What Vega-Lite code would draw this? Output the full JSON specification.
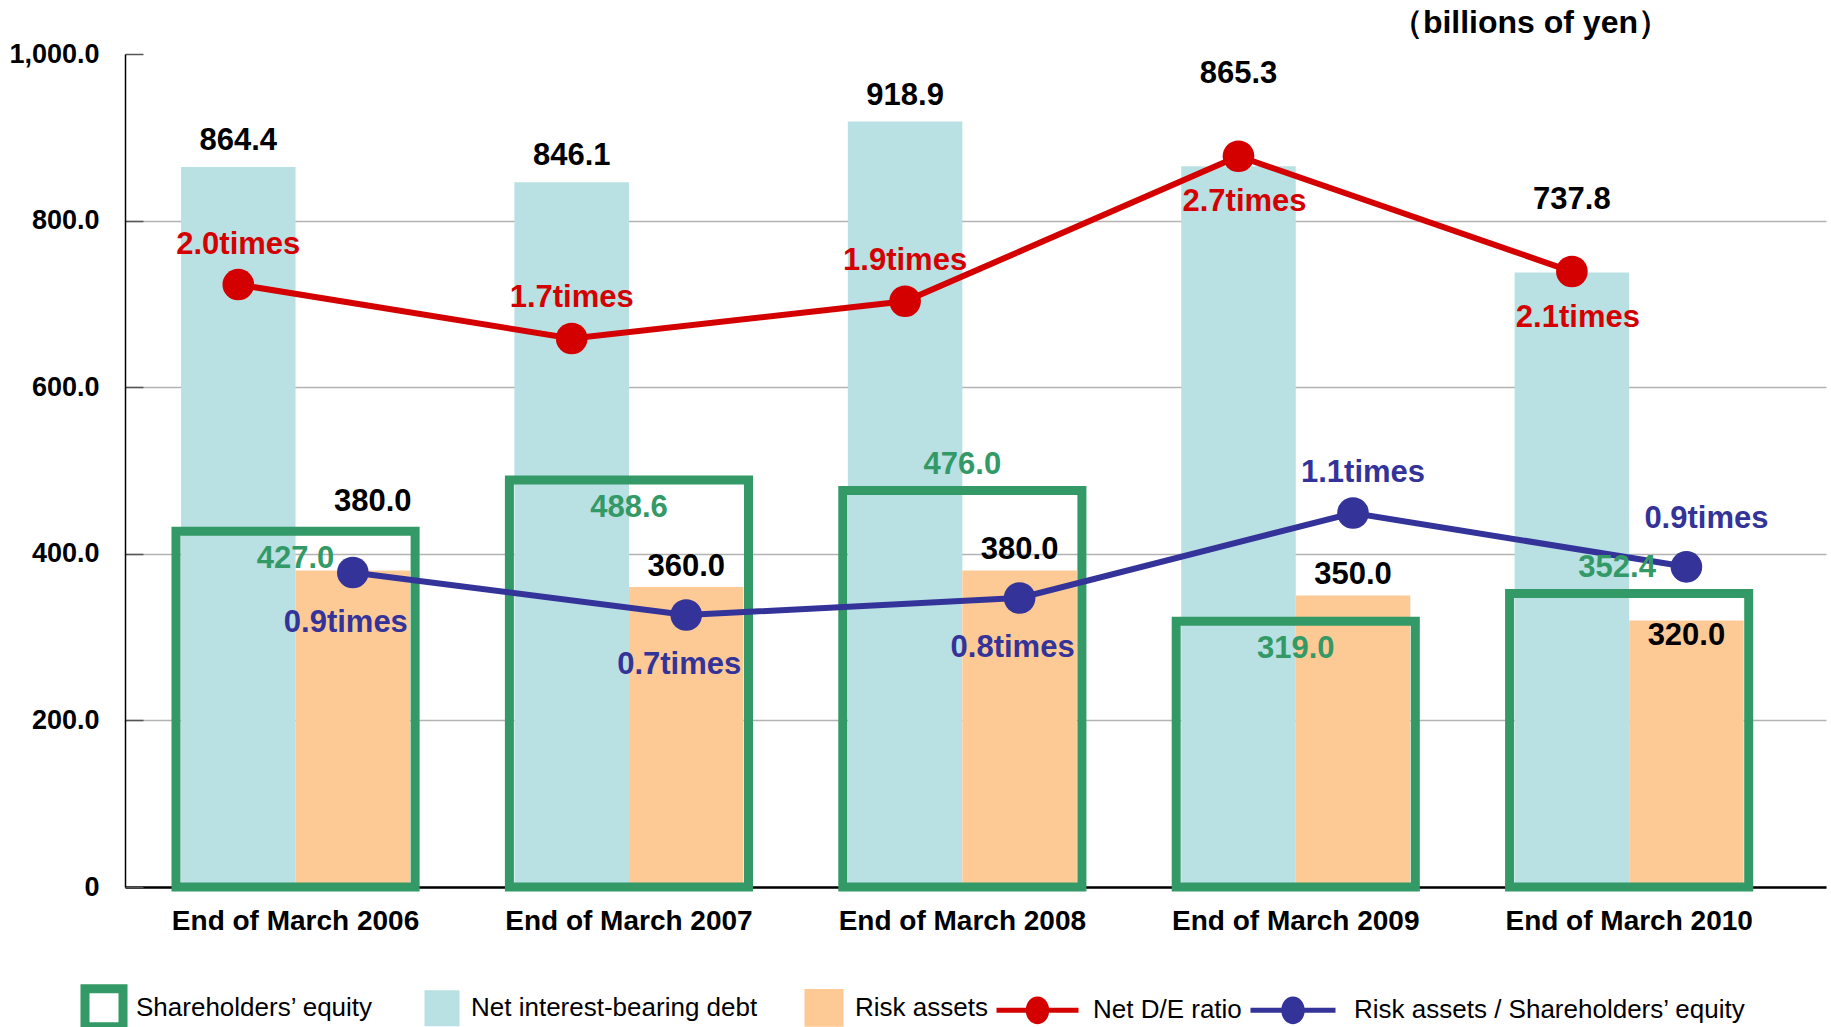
{
  "$schema": "https://vega.github.io/schema/vega-lite/v6.json",
  "width": 1701,
  "height": 833,
  "autosize": "none",
  "padding": {"left": 125, "top": 54, "right": 5, "bottom": 140},
  "background": "white",
  "title": {"text": "（billions of yen）", "anchor": "end", "orient": "top", "fontSize": 32, "fontWeight": "bold", "color": "#000", "font": "Liberation Sans", "dx": -156, "dy": 43, "offset": 11, "baseline": "bottom"},
  "datasets": {
    "bars": [
      {"year": "End of March 2006", "series": "Net interest-bearing debt", "value": 864.4},
      {"year": "End of March 2006", "series": "Risk assets", "value": 380.0},
      {"year": "End of March 2007", "series": "Net interest-bearing debt", "value": 846.1},
      {"year": "End of March 2007", "series": "Risk assets", "value": 360.0},
      {"year": "End of March 2008", "series": "Net interest-bearing debt", "value": 918.9},
      {"year": "End of March 2008", "series": "Risk assets", "value": 380.0},
      {"year": "End of March 2009", "series": "Net interest-bearing debt", "value": 865.3},
      {"year": "End of March 2009", "series": "Risk assets", "value": 350.0},
      {"year": "End of March 2010", "series": "Net interest-bearing debt", "value": 737.8},
      {"year": "End of March 2010", "series": "Risk assets", "value": 320.0}
    ],
    "main": [
      {"year": "End of March 2006", "equity": 427.0, "de": 2.02, "re": 0.89},
      {"year": "End of March 2007", "equity": 488.6, "de": 1.73, "re": 0.74},
      {"year": "End of March 2008", "equity": 476.0, "de": 1.93, "re": 0.80},
      {"year": "End of March 2009", "equity": 319.0, "de": 2.71, "re": 1.10},
      {"year": "End of March 2010", "equity": 352.4, "de": 2.09, "re": 0.91}
    ]
  },
  "config": {
    "view": {"stroke": null},
    "font": "Liberation Sans",
    "axisX": {"labelFontSize": 28, "labelFontWeight": "bold", "labelColor": "#000", "labelFont": "Liberation Sans", "ticks": false, "domainColor": "#000", "domainWidth": 2.5, "labelPadding": 20, "labelAngle": 0, "grid": false, "labelLimit": 0},
    "text": {"font": "Liberation Sans", "fontWeight": "bold", "fontSize": 31, "baseline": "middle"}
  },
  "resolve": {"scale": {"y": "independent"}},
  "layer": [
    {
      "data": {"name": "bars"},
      "mark": {"type": "bar"},
      "encoding": {
        "x": {"field": "year", "type": "nominal", "sort": null, "title": null,
              "scale": {"type": "band", "domain": ["End of March 2006", "End of March 2007", "End of March 2008", "End of March 2009", "End of March 2010"], "paddingInner": 0.313, "paddingOuter": 0.2075, "align": 0.405}},
        "xOffset": {"field": "series", "type": "nominal", "scale": {"domain": ["Net interest-bearing debt", "Risk assets"], "paddingInner": 0, "paddingOuter": 0}},
        "y": {"field": "value", "type": "quantitative", "scale": {"domain": [0, 1000], "nice": false},
              "axis": {"title": null, "values": [0, 200, 400, 600, 800, 1000], "labelExpr": "datum.value === 0 ? '0' : format(datum.value, ',.1f')", "labelFontSize": 27, "labelFontWeight": "bold", "labelColor": "#000", "labelFont": "Liberation Sans", "labelPadding": 44, "ticks": true, "tickSize": -18, "tickColor": "#555555", "tickWidth": 1.5, "domainColor": "#000", "domainWidth": 1.5, "grid": true, "gridColor": "#b3b3b3", "gridWidth": 1.5, "gridOpacity": {"condition": {"test": "datum.value === 1000", "value": 0}, "value": 1}, "labelFlush": false}},
        "color": {"field": "series", "type": "nominal",
                  "scale": {"domain": ["Shareholders’ equity", "Net interest-bearing debt", "Risk assets", "Net D/E ratio", "Risk assets / Shareholders’ equity"], "range": ["#ffffff", "#b9e0e3", "#fdca96", "#d40000", "#333399"]},
                  "legend": {"title": null, "orient": "none", "legendX": -86, "legendY": 907, "direction": "horizontal", "columns": 5, "symbolSize": 7056, "symbolStrokeWidth": 0, "labelFontSize": 26, "labelFont": "Liberation Sans", "labelColor": "#000", "labelOffset": 4, "columnPadding": -10, "labelLimit": 0, "padding": 0,
                    "encode": {"symbols": {"update": {
                      "shape": {"signal": "(datum.value === 'Net interest-bearing debt' ? 'M0.095,-0.43H0.929V0.43H0.095Z' : datum.value === 'Risk assets' ? 'M0,-0.45H0.929V0.45H0Z' : datum.value === 'Net D/E ratio' ? 'M-1.095,-0.06H0.857V0.06H-1.095Z M-0.399,0A0.28,0.33 0 1,1 0.161,0A0.28,0.33 0 1,1 -0.399,0Z' : datum.value === 'Risk assets / Shareholders’ equity' ? 'M-1.262,-0.06H0.762V0.06H-1.262Z M-0.53,0A0.28,0.33 0 1,1 0.03,0A0.28,0.33 0 1,1 -0.53,0Z' : 'M-0.012,-0.452H0.893V0.452H-0.012Z')"},
                      "stroke": {"signal": "(datum.value === 'Shareholders’ equity' ? '#339966' : 'transparent')"},
                      "strokeWidth": {"value": 9},
                      "opacity": {"value": 1}
                    }}}}}
      }
    },
    {
      "data": {"name": "main"},
      "mark": {"type": "bar", "filled": false, "stroke": "#339966", "strokeWidth": 9, "strokeJoin": "miter", "width": {"band": 1.044}},
      "encoding": {
        "x": {"field": "year", "type": "nominal", "sort": null, "title": null},
        "y": {"field": "equity", "type": "quantitative", "scale": {"domain": [0, 1000], "nice": false}, "axis": null}
      }
    },
    {
      "data": {"name": "main"},
      "mark": {"type": "line", "color": "#d40000", "strokeWidth": 6, "point": {"filled": true, "size": 1000, "color": "#d40000", "opacity": 1}},
      "encoding": {
        "x": {"field": "year", "type": "nominal", "sort": null, "title": null, "bandPosition": 0.25},
        "y": {"field": "de", "type": "quantitative", "scale": {"domain": [-1.22, 3.26], "nice": false, "zero": false}, "axis": null}
      }
    },
    {
      "data": {"name": "main"},
      "mark": {"type": "line", "color": "#333399", "strokeWidth": 6, "point": {"filled": true, "size": 1000, "color": "#333399", "opacity": 1}},
      "encoding": {
        "x": {"field": "year", "type": "nominal", "sort": null, "title": null, "bandPosition": 0.75},
        "y": {"field": "re", "type": "quantitative", "scale": {"domain": [-0.22, 2.72], "nice": false, "zero": false}, "axis": null}
      }
    },
    {
      "data": {"name": "bars"},
      "transform": [{"filter": "datum.series === 'Net interest-bearing debt'"}, {"filter": {"field": "year", "oneOf": ["End of March 2006", "End of March 2007", "End of March 2008"]}}],
      "mark": {"type": "text", "dy": -26, "color": "#000"},
      "encoding": {
        "x": {"field": "year", "type": "nominal", "sort": null, "title": null, "bandPosition": 0.25},
        "y": {"field": "value", "type": "quantitative", "scale": {"domain": [0, 1000], "nice": false}, "axis": null},
        "text": {"field": "value", "type": "quantitative", "format": ".1f"}
      }
    },
    {
      "data": {"name": "bars"},
      "transform": [{"filter": "datum.series === 'Net interest-bearing debt'"}, {"filter": {"field": "year", "oneOf": ["End of March 2009"]}}],
      "mark": {"type": "text", "dy": -92, "color": "#000"},
      "encoding": {
        "x": {"field": "year", "type": "nominal", "sort": null, "title": null, "bandPosition": 0.25},
        "y": {"field": "value", "type": "quantitative", "scale": {"domain": [0, 1000], "nice": false}, "axis": null},
        "text": {"field": "value", "type": "quantitative", "format": ".1f"}
      }
    },
    {
      "data": {"name": "bars"},
      "transform": [{"filter": "datum.series === 'Net interest-bearing debt'"}, {"filter": {"field": "year", "oneOf": ["End of March 2010"]}}],
      "mark": {"type": "text", "dy": -72, "color": "#000"},
      "encoding": {
        "x": {"field": "year", "type": "nominal", "sort": null, "title": null, "bandPosition": 0.25},
        "y": {"field": "value", "type": "quantitative", "scale": {"domain": [0, 1000], "nice": false}, "axis": null},
        "text": {"field": "value", "type": "quantitative", "format": ".1f"}
      }
    },
    {
      "data": {"name": "bars"},
      "transform": [{"filter": "datum.series === 'Risk assets'"}, {"filter": {"field": "year", "oneOf": ["End of March 2006"]}}],
      "mark": {"type": "text", "dy": -68, "dx": 20, "color": "#000"},
      "encoding": {
        "x": {"field": "year", "type": "nominal", "sort": null, "title": null, "bandPosition": 0.75},
        "y": {"field": "value", "type": "quantitative", "scale": {"domain": [0, 1000], "nice": false}, "axis": null},
        "text": {"field": "value", "type": "quantitative", "format": ".1f"}
      }
    },
    {
      "data": {"name": "bars"},
      "transform": [{"filter": "datum.series === 'Risk assets'"}, {"filter": {"field": "year", "oneOf": ["End of March 2007", "End of March 2008", "End of March 2009"]}}],
      "mark": {"type": "text", "dy": -20, "color": "#000"},
      "encoding": {
        "x": {"field": "year", "type": "nominal", "sort": null, "title": null, "bandPosition": 0.75},
        "y": {"field": "value", "type": "quantitative", "scale": {"domain": [0, 1000], "nice": false}, "axis": null},
        "text": {"field": "value", "type": "quantitative", "format": ".1f"}
      }
    },
    {
      "data": {"name": "bars"},
      "transform": [{"filter": "datum.series === 'Risk assets'"}, {"filter": {"field": "year", "oneOf": ["End of March 2010"]}}],
      "mark": {"type": "text", "dy": 16, "color": "#000"},
      "encoding": {
        "x": {"field": "year", "type": "nominal", "sort": null, "title": null, "bandPosition": 0.75},
        "y": {"field": "value", "type": "quantitative", "scale": {"domain": [0, 1000], "nice": false}, "axis": null},
        "text": {"field": "value", "type": "quantitative", "format": ".1f"}
      }
    },
    {
      "data": {"name": "main"},
      "transform": [{"filter": {"field": "year", "oneOf": ["End of March 2006", "End of March 2007", "End of March 2009"]}}],
      "mark": {"type": "text", "dy": 28, "color": "#339966"},
      "encoding": {
        "x": {"field": "year", "type": "nominal", "sort": null, "title": null},
        "y": {"field": "equity", "type": "quantitative", "scale": {"domain": [0, 1000], "nice": false}, "axis": null},
        "text": {"field": "equity", "type": "quantitative", "format": ".1f"}
      }
    },
    {
      "data": {"name": "main"},
      "transform": [{"filter": {"field": "year", "oneOf": ["End of March 2008"]}}],
      "mark": {"type": "text", "dy": -25, "color": "#339966"},
      "encoding": {
        "x": {"field": "year", "type": "nominal", "sort": null, "title": null},
        "y": {"field": "equity", "type": "quantitative", "scale": {"domain": [0, 1000], "nice": false}, "axis": null},
        "text": {"field": "equity", "type": "quantitative", "format": ".1f"}
      }
    },
    {
      "data": {"name": "main"},
      "transform": [{"filter": {"field": "year", "oneOf": ["End of March 2010"]}}],
      "mark": {"type": "text", "dy": -25, "dx": -12, "color": "#339966"},
      "encoding": {
        "x": {"field": "year", "type": "nominal", "sort": null, "title": null},
        "y": {"field": "equity", "type": "quantitative", "scale": {"domain": [0, 1000], "nice": false}, "axis": null},
        "text": {"field": "equity", "type": "quantitative", "format": ".1f"}
      }
    },
    {
      "data": {"name": "main"},
      "transform": [{"calculate": "format(datum.de, '.1f') + 'times'", "as": "deText"}, {"filter": {"field": "year", "oneOf": ["End of March 2006", "End of March 2007", "End of March 2008"]}}],
      "mark": {"type": "text", "dy": -40, "color": "#d40000"},
      "encoding": {
        "x": {"field": "year", "type": "nominal", "sort": null, "title": null, "bandPosition": 0.25},
        "y": {"field": "de", "type": "quantitative", "scale": {"domain": [-1.22, 3.26], "nice": false, "zero": false}, "axis": null},
        "text": {"field": "deText", "type": "nominal"}
      }
    },
    {
      "data": {"name": "main"},
      "transform": [{"calculate": "format(datum.de, '.1f') + 'times'", "as": "deText"}, {"filter": {"field": "year", "oneOf": ["End of March 2009", "End of March 2010"]}}],
      "mark": {"type": "text", "dy": 46, "dx": 6, "color": "#d40000"},
      "encoding": {
        "x": {"field": "year", "type": "nominal", "sort": null, "title": null, "bandPosition": 0.25},
        "y": {"field": "de", "type": "quantitative", "scale": {"domain": [-1.22, 3.26], "nice": false, "zero": false}, "axis": null},
        "text": {"field": "deText", "type": "nominal"}
      }
    },
    {
      "data": {"name": "main"},
      "transform": [{"calculate": "format(datum.re, '.1f') + 'times'", "as": "reText"}, {"filter": {"field": "year", "oneOf": ["End of March 2006", "End of March 2007", "End of March 2008"]}}],
      "mark": {"type": "text", "dy": 50, "dx": -7, "color": "#333399"},
      "encoding": {
        "x": {"field": "year", "type": "nominal", "sort": null, "title": null, "bandPosition": 0.75},
        "y": {"field": "re", "type": "quantitative", "scale": {"domain": [-0.22, 2.72], "nice": false, "zero": false}, "axis": null},
        "text": {"field": "reText", "type": "nominal"}
      }
    },
    {
      "data": {"name": "main"},
      "transform": [{"calculate": "format(datum.re, '.1f') + 'times'", "as": "reText"}, {"filter": {"field": "year", "oneOf": ["End of March 2009"]}}],
      "mark": {"type": "text", "dy": -40, "dx": 10, "color": "#333399"},
      "encoding": {
        "x": {"field": "year", "type": "nominal", "sort": null, "title": null, "bandPosition": 0.75},
        "y": {"field": "re", "type": "quantitative", "scale": {"domain": [-0.22, 2.72], "nice": false, "zero": false}, "axis": null},
        "text": {"field": "reText", "type": "nominal"}
      }
    },
    {
      "data": {"name": "main"},
      "transform": [{"calculate": "format(datum.re, '.1f') + 'times'", "as": "reText"}, {"filter": {"field": "year", "oneOf": ["End of March 2010"]}}],
      "mark": {"type": "text", "dy": -48, "dx": 20, "color": "#333399"},
      "encoding": {
        "x": {"field": "year", "type": "nominal", "sort": null, "title": null, "bandPosition": 0.75},
        "y": {"field": "re", "type": "quantitative", "scale": {"domain": [-0.22, 2.72], "nice": false, "zero": false}, "axis": null},
        "text": {"field": "reText", "type": "nominal"}
      }
    }
  ]
}
